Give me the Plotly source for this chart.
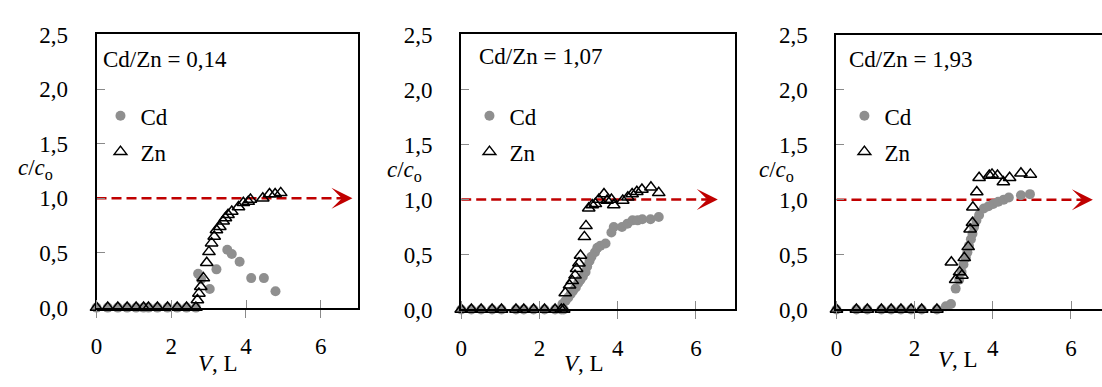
import plotly.graph_objects as go

# ---------------- data ----------------
ratio_labels = ["Cd/Zn = 0,14", "Cd/Zn = 1,07", "Cd/Zn = 1,93"]

# Panel 1
base1_x = [0, 0.3, 0.57, 0.82, 1.06, 1.26, 1.39, 1.63, 1.9, 2.16, 2.41, 2.66]
zn1_x = base1_x + [2.70, 2.74, 2.79, 2.86, 2.95, 3.01, 3.08, 3.15, 3.21, 3.30, 3.39, 3.45,
                   3.52, 3.62, 3.80, 3.93, 4.06, 4.12, 4.45, 4.63, 4.78, 4.93]
zn1_y = [0] * 12 + [0.07, 0.13, 0.19, 0.27, 0.41, 0.51, 0.59, 0.65, 0.71, 0.74, 0.79, 0.82,
                    0.85, 0.88, 0.92, 0.96, 0.97, 0.99, 1.00, 1.04, 1.04, 1.05]
cd1_x = base1_x + [2.72, 2.80, 3.03, 3.21, 3.50, 3.62, 3.83, 4.14, 4.48, 4.79]
cd1_y = [0] * 12 + [0.31, 0.26, 0.17, 0.35, 0.53, 0.49, 0.42, 0.27, 0.27, 0.15]

# Panel 2
base2_x = [0, 0.26, 0.51, 0.79, 1.03, 1.40, 1.60, 1.85, 2.13, 2.40, 2.56, 2.62]
zn2_x = base2_x + [2.66, 2.77, 2.84, 2.91, 2.95, 3.01, 3.05, 3.15, 3.19, 3.26, 3.35, 3.43,
                   3.52, 3.65, 3.73, 3.84, 3.90, 4.13, 4.26, 4.37, 4.49, 4.62, 4.85, 5.05]
zn2_y = [0] * 12 + [0.15, 0.22, 0.26, 0.31, 0.37, 0.42, 0.49, 0.66, 0.76, 0.92, 0.95, 0.96,
                    1.00, 1.05, 0.99, 1.00, 0.95, 0.99, 1.02, 1.05, 1.07, 1.09, 1.11, 1.06]
cd2_x = base2_x + [2.59, 2.67, 2.74, 2.80, 2.86, 2.93, 2.99, 3.05, 3.11, 3.18, 3.22, 3.28,
                   3.33, 3.42, 3.48, 3.56, 3.69, 3.84, 3.90, 4.11, 4.25, 4.38, 4.51, 4.63,
                   4.84, 5.05]
cd2_y = [0] * 12 + [0.05, 0.08, 0.11, 0.14, 0.17, 0.20, 0.24, 0.27, 0.30, 0.34, 0.39, 0.44,
                    0.48, 0.52, 0.56, 0.58, 0.60, 0.70, 0.75, 0.75, 0.78, 0.81, 0.81, 0.82,
                    0.82, 0.84]

# Panel 3
base3_x = [0, 0.51, 0.79, 1.15, 1.40, 1.65, 1.91, 2.18, 2.57]
zn3_x = base3_x + [2.94, 3.05, 3.15, 3.21, 3.27, 3.37, 3.42, 3.48, 3.49, 3.59, 3.65, 3.91,
                   3.98, 4.12, 4.27, 4.43, 4.72, 4.96]
zn3_y = [0] * 9 + [0.43, 0.27, 0.34, 0.31, 0.47, 0.57, 0.73, 0.79, 0.93, 1.07, 1.20, 1.22,
                   1.23, 1.22, 1.16, 1.20, 1.24, 1.23]
cd3_x = base3_x + [2.80, 2.93, 3.05, 3.14, 3.20, 3.25, 3.31, 3.35, 3.39, 3.44, 3.48, 3.52,
                   3.58, 3.65, 3.77, 3.89, 4.01, 4.14, 4.28, 4.41, 4.72, 4.95]
cd3_y = [0] * 9 + [0.03, 0.05, 0.19, 0.27, 0.34, 0.41, 0.47, 0.52, 0.58, 0.64, 0.69, 0.75,
                   0.81, 0.86, 0.92, 0.94, 0.96, 0.98, 1.00, 1.02, 1.04, 1.05]

ref_level = 1.0
arrow_tip = [6.85, 6.56, 6.56]

y_ticks = [0, 0.5, 1.0, 1.5, 2.0, 2.5]
x_ticks = [0, 2, 4, 6]

# ---------------- style / layout ----------------
W, H = 1102, 387
FONT = "'Liberation Serif', 'Times New Roman', 'DejaVu Serif', serif"
FS = 23
RED = "#c00000"
GRAY = "#8f8f8f"

panels = [
    dict(cdx=cd1_x, cdy=cd1_y, znx=zn1_x, zny=zn1_y,
         px=(91, 354), py=(24, 316), xr=7.0, mirror_y=True, legend_left=95),
    dict(cdx=cd2_x, cdy=cd2_y, znx=zn2_x, zny=zn2_y,
         px=(457.7, 733), py=(24, 318), xr=7.0, mirror_y=True, legend_left=466),
    dict(cdx=cd3_x, cdy=cd3_y, znx=zn3_x, zny=zn3_y,
         px=(835, 1102), py=(24.5, 318), xr=(1102 - 835) / 39.3, mirror_y=False, legend_left=843),
]
text_pos = [
    dict(ratio=(96, 51), ytitle=(30, 168), xtitle=(213, 376)),
    dict(ratio=(474, 48), ytitle=(401, 170), xtitle=(581, 376)),
    dict(ratio=(846, 51), ytitle=(775, 170), xtitle=(957, 372)),
]

fig = go.Figure()
layout = dict(
    width=W, height=H, margin=dict(l=0, r=0, t=0, b=0),
    paper_bgcolor="white", plot_bgcolor="white",
    separators=",.", font=dict(family=FONT, size=FS, color="black"),
    showlegend=True,
)
annotations = []

for i, p in enumerate(panels):
    n = "" if i == 0 else str(i + 1)
    xa, ya = "x" + n, "y" + n
    leg = "legend" + n

    # reference line c/co = 1
    fig.add_trace(go.Scatter(
        x=[0, arrow_tip[i] - 0.3], y=[ref_level, ref_level], xaxis=xa, yaxis=ya,
        mode="lines", line=dict(color=RED, width=2.5, dash="10px,5px"),
        showlegend=False, hoverinfo="skip", cliponaxis=False))
    fig.add_trace(go.Scatter(
        x=p["cdx"], y=p["cdy"], xaxis=xa, yaxis=ya, mode="markers", name="Cd",
        marker=dict(symbol="circle", size=10, color=GRAY),
        legend=leg, legendgroup="cd" + n, cliponaxis=False))
    fig.add_trace(go.Scatter(
        x=p["znx"], y=p["zny"], xaxis=xa, yaxis=ya, mode="markers", name="Zn",
        marker=dict(symbol="triangle-up-open", size=11, color="black",
                    line=dict(color="black", width=1.5)),
        legend=leg, legendgroup="zn" + n, cliponaxis=False))

    x0, x1 = p["px"]
    y0, y1 = p["py"]
    layout["xaxis" + n] = dict(
        domain=[x0 / W, x1 / W], range=[0, p["xr"]], anchor=ya,
        tickmode="array", tickvals=x_ticks, ticks="outside", ticklen=8,
        tickcolor="#8a8a8a", tickwidth=1,
        minor=dict(tickmode="array", tickvals=[v + 0.001 for v in x_ticks],
                   ticks="inside", ticklen=8, tickcolor="#8a8a8a", tickwidth=1,
                   showgrid=False),
        showline=True, linecolor="black", linewidth=2, mirror=True,
        showgrid=False, zeroline=False, ticklabelstandoff=9,
        tickfont=dict(family=FONT, size=FS, color="black"))
    layout["yaxis" + n] = dict(
        domain=[1 - y1 / H, 1 - y0 / H], range=[0, 2.5], anchor=xa,
        tickmode="array", tickvals=y_ticks, tickformat=".1f",
        ticks="inside", ticklen=8, tickcolor="#8a8a8a", tickwidth=1,
        showline=True, linecolor="black", linewidth=2, mirror=p["mirror_y"],
        showgrid=False, zeroline=False, ticklabelstandoff=22,
        tickfont=dict(family=FONT, size=FS, color="black"))
    layout[leg] = dict(
        x=p["legend_left"] / W, y=1 - 88 / H, xanchor="left", yanchor="top",
        bgcolor="rgba(0,0,0,0)", font=dict(family=FONT, size=FS, color="black"),
        traceorder="grouped", tracegroupgap=3, itemsizing="trace")

    # arrow head
    annotations.append(dict(
        x=arrow_tip[i], y=ref_level, ax=arrow_tip[i] - 0.35, ay=ref_level,
        xref=xa, yref=ya, axref=xa, ayref=ya, text="", showarrow=True,
        arrowhead=3, arrowsize=1.4, arrowwidth=2.5, arrowcolor=RED))

    tp = text_pos[i]
    annotations.append(dict(
        x=tp["ratio"][0] / W, y=1 - tp["ratio"][1] / H, xref="paper", yref="paper",
        xanchor="left", yanchor="middle", showarrow=False, text=ratio_labels[i],
        font=dict(family=FONT, size=FS, color="black")))
    annotations.append(dict(
        x=tp["ytitle"][0] / W, y=1 - tp["ytitle"][1] / H, xref="paper", yref="paper",
        xanchor="center", yanchor="middle", showarrow=False,
        text="<i>c</i>/<i>c</i><sub>o</sub>",
        font=dict(family=FONT, size=FS, color="black")))
    annotations.append(dict(
        x=tp["xtitle"][0] / W, y=1 - tp["xtitle"][1] / H, xref="paper", yref="paper",
        xanchor="center", yanchor="middle", showarrow=False,
        text="<i>V</i>, L", font=dict(family=FONT, size=FS, color="black")))

layout["annotations"] = annotations
fig.update_layout(**layout)
fig.write_html("out.html")
